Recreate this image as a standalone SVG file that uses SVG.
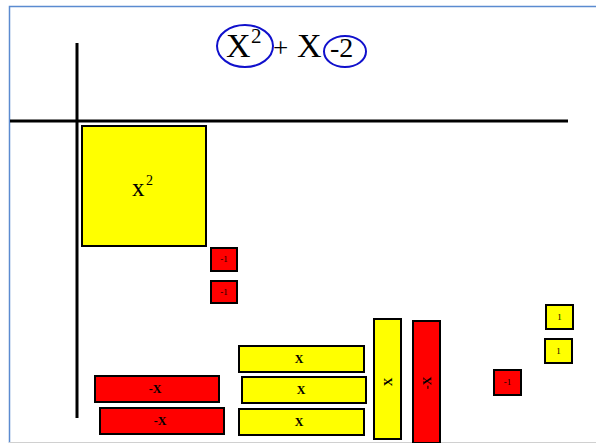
<svg xmlns="http://www.w3.org/2000/svg" width="596" height="443" viewBox="0 0 596 443">
<style>
.y{fill:#FFFF00;stroke:#000;stroke-width:2}
.r{fill:#FF0000;stroke:#000;stroke-width:2}
.t{font-family:"Liberation Serif","Times New Roman",serif;fill:#000}
.b{font-family:"Liberation Serif","Times New Roman",serif;font-weight:bold;font-size:12px;text-anchor:middle;fill:#000}
.s{font-family:"Liberation Serif","Times New Roman",serif;font-size:9px;text-anchor:middle;fill:#000}
.ax{stroke:#000;stroke-width:3}
</style>
<rect x="0" y="0" width="596" height="443" fill="#fff"/>
<path d="M9.5,443 V6.5 H596" fill="none" stroke="#5B8BD0" stroke-width="1.5"/>
<line x1="9" y1="442.5" x2="596" y2="442.5" stroke="#d0d0d0" stroke-width="1"/>
<g id="title">
<text class="t" x="226" y="57" font-size="34">X</text>
<text class="t" x="251" y="43" font-size="21">2</text>
<text class="t" x="273" y="57" font-size="27">+</text>
<text class="t" x="297" y="57" font-size="34">X</text>
<text class="t" x="330" y="57" font-size="28">-2</text>
<ellipse cx="245" cy="46" rx="28" ry="21" fill="none" stroke="#1010CC" stroke-width="2"/>
<ellipse cx="345" cy="51.5" rx="21" ry="15.5" fill="none" stroke="#1010CC" stroke-width="2"/>
</g>
<g id="axes">
<line class="ax" x1="77" y1="43" x2="77" y2="418"/>
<line class="ax" x1="10" y1="121" x2="568" y2="121"/>
</g>
<g id="x2"><rect class="y" x="82" y="126" width="124" height="120"/><text class="t" x="132" y="196" font-size="25">x</text><text class="t" x="146" y="185" font-size="14">2</text></g>
<g id="neg1a"><rect class="r" x="211" y="248" width="26" height="23"/><text class="s" x="224" y="262">-1</text></g>
<g id="neg1b"><rect class="r" x="211" y="281" width="26" height="22"/><text class="s" x="224" y="295">-1</text></g>
<g id="negxa"><rect class="r" x="95" y="376" width="124" height="26"/><text class="b" x="155" y="393">-X</text></g>
<g id="negxb"><rect class="r" x="100" y="408" width="124" height="26"/><text class="b" x="160" y="425">-X</text></g>
<g id="xa"><rect class="y" x="239" y="346" width="125" height="26"/><text class="b" x="299" y="363">X</text></g>
<g id="xb"><rect class="y" x="242" y="377" width="124" height="26"/><text class="b" x="301" y="394">X</text></g>
<g id="xc"><rect class="y" x="239" y="409" width="125" height="26"/><text class="b" x="299" y="426">X</text></g>
<g id="xv"><rect class="y" x="374" y="319" width="27" height="120"/><text class="b" transform="translate(392,382) rotate(-90)" x="0" y="0">X</text></g>
<g id="negxv"><rect class="r" x="413" y="321" width="27" height="122"/><text class="b" transform="translate(431,383) rotate(-90)" x="0" y="0">-X</text></g>
<g id="neg1c"><rect class="r" x="494" y="370" width="27" height="25"/><text class="s" x="507.5" y="385">-1</text></g>
<g id="one_a"><rect class="y" x="546" y="305" width="27" height="24"/><text class="s" x="559.5" y="320">1</text></g>
<g id="one_b"><rect class="y" x="545" y="339" width="27" height="24"/><text class="s" x="558.5" y="354">1</text></g>
</svg>
